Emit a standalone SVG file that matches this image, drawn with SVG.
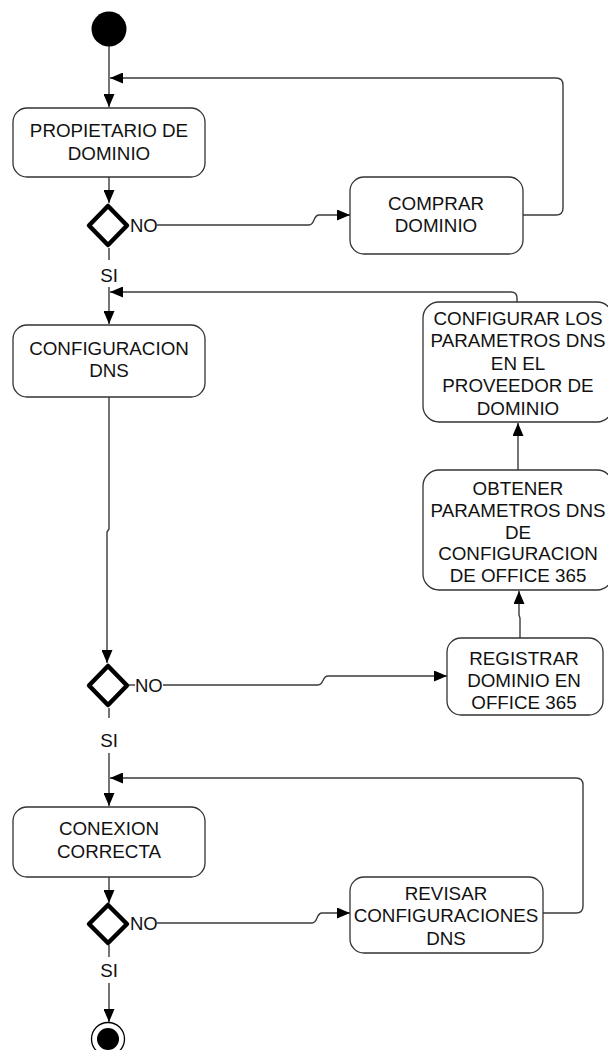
<svg xmlns="http://www.w3.org/2000/svg" width="608" height="1050" viewBox="0 0 608 1050">
  <style>
    .box { fill: #ffffff; stroke: #333333; stroke-width: 1.3; }
    .dec { fill: #ffffff; stroke: #000000; stroke-width: 4.5; stroke-linejoin: round; }
    .lbl { font-family: "Liberation Sans", Arial, sans-serif; font-size: 18.8px; fill: #111111; text-anchor: middle; }
    .tag { font-family: "Liberation Sans", Arial, sans-serif; font-size: 18.5px; fill: #111111; }
    .wire { fill: none; stroke: #3a3a3a; stroke-width: 1.4; }
    .arrow { marker-end: url(#head); }
  </style>
  <defs>
    <marker id="head" markerUnits="userSpaceOnUse" markerWidth="13" markerHeight="11" refX="13" refY="5.5" orient="auto">
      <path d="M0,0 L13,5.5 L0,11 z" fill="#000000"/>
    </marker>
  </defs>

  <rect width="608" height="1050" fill="#ffffff"/>

  <!-- connectors -->
  <g id="connectors">
    <path class="wire arrow" d="M109,46 V107"/>
    <path class="wire arrow" d="M109,177 V203"/>
    <path class="wire arrow" d="M157,225 H309 C315,225 313,215 319,215 H350"/>
    <path class="wire arrow" d="M523,215 H556 Q563,215 563,208 V85 Q563,78 556,78 H110"/>
    <path class="wire" d="M109,248 V260"/>
    <path class="wire arrow" d="M109,287 V324"/>
    <path class="wire arrow" d="M517,302 V298 Q517,292 511,292 H110"/>
    <path class="wire arrow" d="M109,397 V529 L107,532 V663"/>
    <path class="wire" d="M127,685 H135"/>
    <path class="wire arrow" d="M163,685 H318 C324,685 322,676 328,676 H447"/>
    <path class="wire arrow" d="M520,638 V618 L519,615 V591"/>
    <path class="wire arrow" d="M518,470 V423"/>
    <path class="wire" d="M109,708 V718"/>
    <path class="wire arrow" d="M109,753 V806"/>
    <path class="wire arrow" d="M543,913 H576 Q583,913 583,906 V785 Q583,778 576,778 H110"/>
    <path class="wire arrow" d="M109,877 V903"/>
    <path class="wire arrow" d="M157,923 H312 C318,923 316,913 322,913 H350"/>
    <path class="wire" d="M109,945 V957"/>
    <path class="wire arrow" d="M109,983 V1022"/>
  </g>

  <!-- start / end -->
  <g id="start">
    <circle cx="109" cy="29" r="17.5" fill="#000000"/>
  </g>
  <g id="end">
    <circle cx="108" cy="1039" r="16.5" fill="#ffffff" stroke="#000000" stroke-width="1.3"/>
    <circle cx="108" cy="1039" r="11" fill="#000000"/>
  </g>

  <!-- actions -->
  <g id="propietario">
    <rect class="box" x="13" y="108" width="192" height="69" rx="14"/>
    <text class="lbl" x="109" y="136.5">PROPIETARIO DE</text>
    <text class="lbl" x="109" y="159.5">DOMINIO</text>
  </g>

  <g id="comprar">
    <rect class="box" x="350" y="177" width="173" height="77" rx="14"/>
    <text class="lbl" x="436" y="209.5">COMPRAR</text>
    <text class="lbl" x="436" y="231.5">DOMINIO</text>
  </g>

  <g id="configuracion-dns">
    <rect class="box" x="13" y="325" width="192" height="72" rx="14"/>
    <text class="lbl" x="109" y="354.5">CONFIGURACION</text>
    <text class="lbl" x="109" y="376.5">DNS</text>
  </g>

  <g id="configurar-parametros">
    <rect class="box" x="423" y="302" width="190" height="120" rx="16"/>
    <text class="lbl" x="518" y="324.5">CONFIGURAR LOS</text>
    <text class="lbl" x="518" y="347">PARAMETROS DNS</text>
    <text class="lbl" x="518" y="369.5">EN EL</text>
    <text class="lbl" x="518" y="392">PROVEEDOR DE</text>
    <text class="lbl" x="518" y="414.5">DOMINIO</text>
  </g>

  <g id="obtener-parametros">
    <rect class="box" x="423" y="470" width="190" height="120" rx="16"/>
    <text class="lbl" x="518" y="494.5">OBTENER</text>
    <text class="lbl" x="518" y="516.5">PARAMETROS DNS</text>
    <text class="lbl" x="518" y="538.5">DE</text>
    <text class="lbl" x="518" y="559.5">CONFIGURACION</text>
    <text class="lbl" x="518" y="581.5">DE OFFICE 365</text>
  </g>

  <g id="registrar-dominio">
    <rect class="box" x="447" y="638" width="156" height="77" rx="14"/>
    <text class="lbl" x="524" y="664.5">REGISTRAR</text>
    <text class="lbl" x="524" y="686.5">DOMINIO EN</text>
    <text class="lbl" x="524" y="708.5">OFFICE 365</text>
  </g>

  <g id="conexion">
    <rect class="box" x="13" y="807" width="192" height="70" rx="14"/>
    <text class="lbl" x="109" y="834.5">CONEXION</text>
    <text class="lbl" x="109" y="857.5">CORRECTA</text>
  </g>

  <g id="revisar">
    <rect class="box" x="350" y="877" width="193" height="76" rx="14"/>
    <text class="lbl" x="446" y="899.5">REVISAR</text>
    <text class="lbl" x="446" y="921.5">CONFIGURACIONES</text>
    <text class="lbl" x="446" y="944.5">DNS</text>
  </g>

  <!-- decisions -->
  <g id="decision-dominio">
    <path class="dec" d="M108,206 L127,225.5 L108,245 L89,225.5 z"/>
    <text class="tag" x="130" y="232">NO</text>
    <text class="lbl" x="109" y="281.5">SI</text>
  </g>

  <g id="decision-dns">
    <path class="dec" d="M108,666 L127,685.5 L108,705 L89,685.5 z"/>
    <text class="tag" x="135" y="692">NO</text>
    <text class="lbl" x="109" y="746.5">SI</text>
  </g>

  <g id="decision-conexion">
    <path class="dec" d="M108,905 L127,924 L108,943 L89,924 z"/>
    <text class="tag" x="130" y="930">NO</text>
    <text class="lbl" x="109" y="976.5">SI</text>
  </g>
</svg>
